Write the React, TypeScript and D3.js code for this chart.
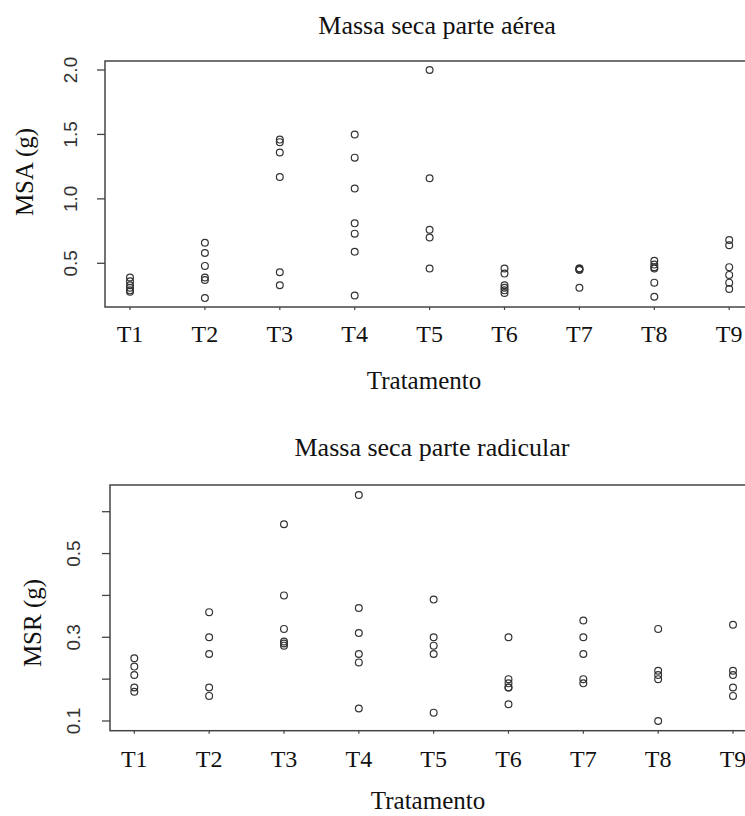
import React from 'react';
import * as d3 from 'd3';

const treatments = ['T1', 'T2', 'T3', 'T4', 'T5', 'T6', 'T7', 'T8', 'T9'];

// MSA (g) per treatment
const msa = [
  [0.39, 0.36, 0.33, 0.31, 0.29, 0.28],
  [0.66, 0.58, 0.48, 0.39, 0.37, 0.23],
  [1.46, 1.44, 1.36, 1.17, 0.43, 0.33],
  [1.50, 1.32, 1.08, 0.81, 0.73, 0.59, 0.25],
  [2.00, 1.16, 0.76, 0.70, 0.46],
  [0.46, 0.42, 0.33, 0.31, 0.29, 0.27],
  [0.46, 0.46, 0.45, 0.45, 0.31],
  [0.52, 0.49, 0.47, 0.46, 0.35, 0.24],
  [0.68, 0.64, 0.47, 0.41, 0.35, 0.30],
];

// MSR (g) per treatment
const msr = [
  [0.25, 0.23, 0.21, 0.18, 0.17],
  [0.36, 0.30, 0.26, 0.18, 0.16],
  [0.57, 0.40, 0.32, 0.29, 0.285, 0.28],
  [0.64, 0.37, 0.31, 0.26, 0.24, 0.13],
  [0.39, 0.30, 0.28, 0.26, 0.12],
  [0.30, 0.20, 0.19, 0.18, 0.18, 0.14],
  [0.34, 0.30, 0.26, 0.20, 0.19],
  [0.32, 0.22, 0.21, 0.20, 0.10],
  [0.33, 0.22, 0.21, 0.18, 0.16],
];

const msaTicks = [0.5, 1.0, 1.5, 2.0];
const msrTicks = [0.1, 0.2, 0.3, 0.4, 0.5, 0.6];
const msrLabels = [0.1, 0.3, 0.5];

const serif = '"Liberation Serif", "Times New Roman", serif';
const sans = '"Liberation Sans", Arial, sans-serif';
const ink = '#333';

type PanelProps = {
  title: string;
  ylab: string;
  data: number[][];
  ticks: number[];
  labels: number[];
  x: d3.ScaleLinear<number, number>;
  y: d3.ScaleLinear<number, number>;
  box: { left: number; top: number; bottom: number };
  titleY: number;
  titleX: number;
  tickLabelY: number;
  xlabX: number;
  xlabY: number;
  ylabX: number;
  ylabY: number;
  yTickX: number;
};

const Panel = (p: PanelProps) => (
  <g>
    <text x={p.titleX} y={p.titleY} textAnchor="middle" fontFamily={serif} fontSize={26} fill="#111">
      {p.title}
    </text>
    <rect x={p.box.left} y={p.box.top} width={760 - p.box.left} height={p.box.bottom - p.box.top}
      fill="none" stroke="#444" strokeWidth={1.5} />
    {p.ticks.map(t => (
      <line key={t} x1={p.box.left - 8} x2={p.box.left} y1={p.y(t)} y2={p.y(t)} stroke="#444" strokeWidth={1.3} />
    ))}
    {p.labels.map(t => (
      <text key={t} transform={`translate(${p.yTickX},${p.y(t)}) rotate(-90)`} textAnchor="middle"
        fontFamily={sans} fontSize={19} fill={ink}>
        {d3.format('.1f')(t)}
      </text>
    ))}
    <text transform={`translate(${p.ylabX},${p.ylabY}) rotate(-90)`} textAnchor="middle"
      fontFamily={serif} fontSize={25} fill="#111">
      {p.ylab}
    </text>
    {treatments.map((t, i) => (
      <g key={t}>
        <line x1={p.x(i + 1)} x2={p.x(i + 1)} y1={p.box.bottom} y2={p.box.bottom + 3} stroke="#444" strokeWidth={1.2} />
        <text x={p.x(i + 1)} y={p.tickLabelY} textAnchor="middle" fontFamily={serif} fontSize={24} fill="#111">
          {t}
        </text>
        {p.data[i].map((v, j) => (
          <circle key={j} cx={p.x(i + 1)} cy={p.y(v)} r={3.4} fill="none" stroke={ink} strokeWidth={1.2} />
        ))}
      </g>
    ))}
    <text x={p.xlabX} y={p.xlabY} textAnchor="middle" fontFamily={serif} fontSize={25} fill="#111">
      Tratamento
    </text>
  </g>
);

export default function App() {
  const xTop = d3.scaleLinear().domain([1, 9]).range([130, 729.2]);
  const yTop = d3.scaleLinear().domain([0.5, 2.0]).range([263.3, 70]);
  const xBot = d3.scaleLinear().domain([1, 9]).range([134.3, 733]);
  const yBot = d3.scaleLinear().domain([0.1, 0.6]).range([721, 511.7]);

  return (
    <svg width={745} height={816} style={{ position: 'absolute', left: 0, top: 0, background: '#fff' }}>
      <Panel title="Massa seca parte aérea" ylab="MSA (g)" data={msa} ticks={msaTicks} labels={msaTicks}
        x={xTop} y={yTop} box={{ left: 105, top: 61, bottom: 307 }}
        titleX={437} titleY={34} tickLabelY={342} xlabX={424} xlabY={389} ylabX={33} ylabY={172} yTickX={77} />
      <Panel title="Massa seca parte radicular" ylab="MSR (g)" data={msr} ticks={msrTicks} labels={msrLabels}
        x={xBot} y={yBot} box={{ left: 110, top: 485, bottom: 730.7 }}
        titleX={432} titleY={456} tickLabelY={767} xlabX={428} xlabY={809} ylabX={41} ylabY={623} yTickX={80} />
    </svg>
  );
}
